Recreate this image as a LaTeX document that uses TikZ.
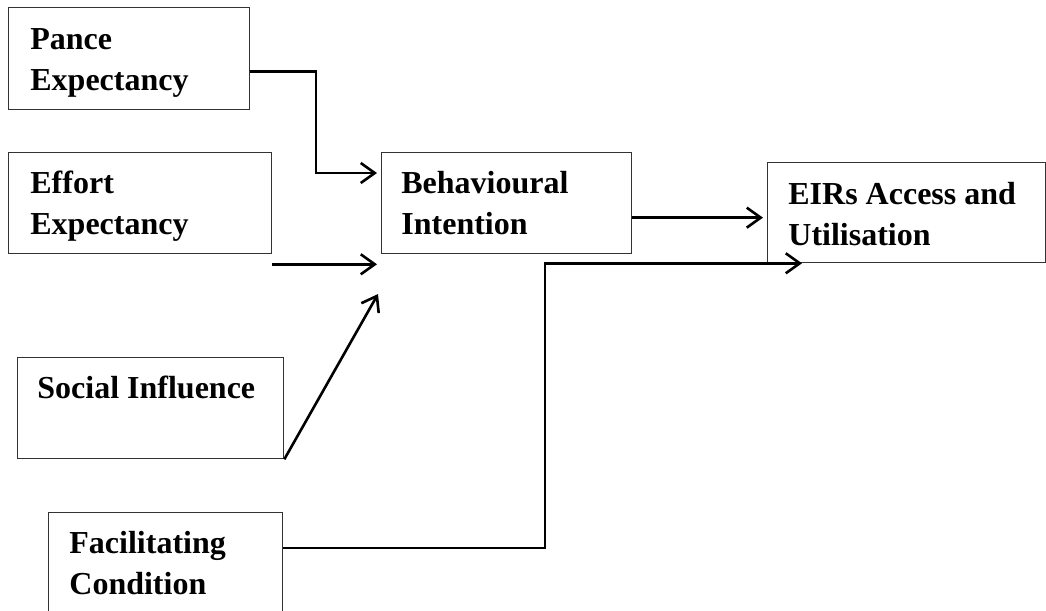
\documentclass[tikz,border=0pt]{standalone}
\usepackage{fontspec}
\setmainfont{Liberation Serif}
\usetikzlibrary{arrows.meta}

\begin{document}
\begin{tikzpicture}[x=0.5pt, y=-0.5pt,
    box/.style={draw=black!80, line width=0.65pt, rectangle, anchor=north west, inner sep=0pt},
    lbl/.style={anchor=north west, inner sep=0pt, align=left, font=\fontsize{16}{20.5}\selectfont\bfseries},
    conn/.style={line width=1.3pt, -{Straight Barb[length=7pt, width=10pt]}}]
    \useasboundingbox (0,0) rectangle (1046,611);
    \clip (0,0) rectangle (1046,611);

    % Construct boxes
    \node[box, minimum width=120.5pt, minimum height=51pt] (pe) at (8,7) {};
    \node[lbl] (petxt) at (30,28) {Pance\\Expectancy};

    \node[box, minimum width=131.5pt, minimum height=50.5pt] (ee) at (8,152) {};
    \node[lbl] (eetxt) at (30,171) {Effort\\Expectancy};

    \node[box, minimum width=133pt, minimum height=50.5pt] (si) at (17,357) {};
    \node[lbl] (sitxt) at (37,376) {Social Influence};

    \node[box, minimum width=117pt, minimum height=64pt] (fc) at (48,512) {};
    \node[lbl] (fctxt) at (69,531) {Facilitating\\Condition};

    \node[box, minimum width=125pt, minimum height=50.5pt] (bi) at (381,152) {};
    \node[lbl] (bitxt) at (401,171) {Behavioural\\Intention};

    \node[box, minimum width=139pt, minimum height=50pt] (eir) at (767,162) {};
    \node[lbl] (eirtxt) at (788,182) {EIRs Access and\\Utilisation};

    % Paths into intention
    \draw[conn, shorten >=2pt] ([yshift=-6.5pt]pe.east) -| ([xshift=-32.5pt,yshift=-10.5pt]bi.north west) -- ([yshift=-10.5pt]bi.north west);
    \draw[conn, shorten >=2pt] ([yshift=-5pt]ee.south east) -- ([yshift=-5pt]bi.south west);
    \draw[conn, shorten >=1pt] (si.south east) -- ([xshift=-1pt,yshift=-19pt]bi.south west);

    % Paths into use
    \draw[conn, shorten >=2pt] ([yshift=-7.25pt]bi.east) -- ([yshift=-2.5pt]eir.west);
    \draw[conn] ([yshift=-18pt]fc.north east) -| ([xshift=-111pt]eir.south west) -- ([xshift=17.5pt]eir.south west);
\end{tikzpicture}
\end{document}
